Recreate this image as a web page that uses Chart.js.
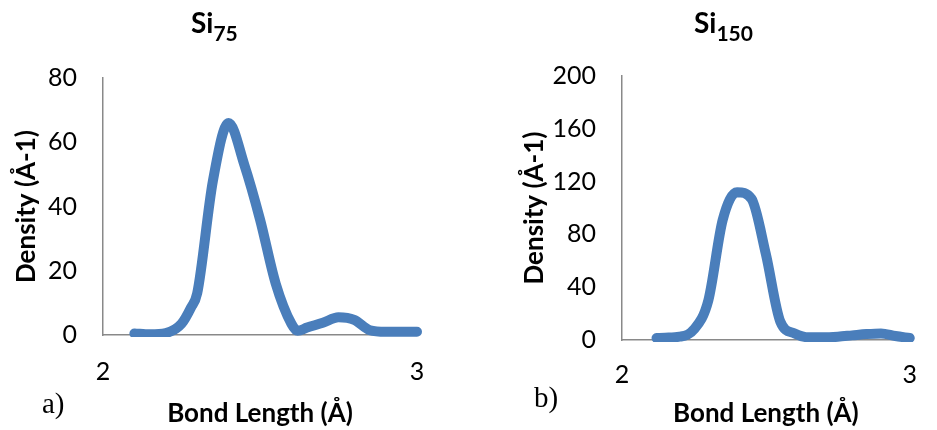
<!DOCTYPE html>
<html lang="en">
<head>
  <meta charset="UTF-8" />
  <title>Si bond length density</title>
  <script src="https://cdn.jsdelivr.net/npm/chart.js"></script>
  <style>
    body { margin: 0; background: #fff; }
    #wrap { position: relative; width: 937px; height: 430px; overflow: hidden; }
    canvas { position: absolute; top: 0; }
    .title { position: absolute; font-family: Lato, sans-serif; font-weight: bold; font-size: 28px; line-height: 1; white-space: nowrap; }
    .title sub { font-size: 21px; vertical-align: -8px; line-height: 0; }
    .panel { position: absolute; font-family: "Liberation Serif", serif; font-size: 29px; line-height: 1; }
  </style>
</head>
<body>
  <div id="wrap">
    <canvas id="chartA" width="470" height="430" style="left:0"></canvas>
    <canvas id="chartB" width="467" height="430" style="left:470px"></canvas>
    <div class="title" style="left:191px; top:8px">Si<sub>75</sub></div>
    <div class="title" style="left:694px; top:8px">Si<sub>150</sub></div>
    <div class="panel" style="left:42px; top:389px">a)</div>
    <div class="panel" style="left:534px; top:383px">b)</div>
  </div>

  <script>
    // Valores
    const xTicks = [2, 3];

    const bondA = [2.10, 2.15, 2.20, 2.25, 2.28, 2.30, 2.35, 2.40, 2.45, 2.50, 2.55, 2.60, 2.62, 2.65, 2.70, 2.75, 2.80, 2.85, 2.90, 2.95, 3.00];
    const densityA = [0.5, 0.2, 0.6, 3.5, 8.5, 13, 48, 66, 53, 36, 16, 3.5, 1.3, 2.3, 3.8, 5.5, 4.7, 1.5, 1, 1, 1];
    const yTicksA = [0, 20, 40, 60, 80];

    const bondB = [2.12, 2.15, 2.20, 2.25, 2.30, 2.35, 2.40, 2.45, 2.50, 2.55, 2.60, 2.65, 2.70, 2.75, 2.80, 2.85, 2.90, 2.95, 3.00];
    const densityB = [1.5, 1.8, 2.5, 8, 30, 91, 112, 107, 65, 14, 5, 2, 2, 2.5, 3.5, 4.5, 5, 3, 1.5];
    const yTicksB = [0, 40, 80, 120, 160, 200];

    const lineColor = '#4A7EBB';
    const axisColor = '#898989';

    function crearGrafico(id, bond, density, yTicks, pad, yWidth, xHeight, xTickPad) {
      const ctx = document.getElementById(id).getContext('2d');
      return new Chart(ctx, {
        type: 'line',
        data: {
          datasets: [{
            data: bond.map((b, i) => ({ x: b, y: density[i] })),
            borderColor: lineColor,
            borderWidth: 10,
            pointRadius: 0,
            cubicInterpolationMode: 'monotone',
            borderCapStyle: 'round',
            borderJoinStyle: 'round',
            clip: { left: 20, top: 20, right: 20, bottom: 2 }
          }]
        },
        options: {
          responsive: false,
          animation: false,
          devicePixelRatio: 1,
          layout: { padding: pad },
          plugins: { legend: { display: false }, tooltip: { enabled: false } },
          scales: {
            x: {
              type: 'linear',
              min: 2,
              max: 3,
              afterBuildTicks: s => { s.ticks = xTicks.map(v => ({ value: v })); },
              afterFit: s => { s.height = xHeight; },
              grid: { display: false, drawTicks: false },
              border: { color: axisColor, width: 1.5 },
              ticks: { padding: xTickPad, color: '#000', font: { family: 'Lato', size: 25 } },
              title: {
                display: true,
                text: 'Bond Length (Å)',
                color: '#000',
                font: { family: 'Lato', size: 26, weight: 'bold' },
                padding: { top: 0, bottom: 1 }
              }
            },
            y: {
              min: yTicks[0],
              max: yTicks[yTicks.length - 1],
              afterBuildTicks: s => { s.ticks = yTicks.map(v => ({ value: v })); },
              afterFit: s => { s.width = yWidth; },
              grid: { display: false, drawTicks: false },
              border: { color: axisColor, width: 1.5 },
              ticks: { padding: 26, color: '#000', font: { family: 'Lato', size: 25 } },
              title: {
                display: true,
                text: 'Density (Å-1)',
                color: '#000',
                font: { family: 'Lato', size: 26, weight: 'bold' },
                padding: { top: 3, bottom: 0 }
              }
            }
          }
        }
      });
    }

    crearGrafico('chartA', bondA, densityA, yTicksA, { left: 8, top: 78, right: 53, bottom: 0 }, 95, 95, 22);
    crearGrafico('chartB', bondB, densityB, yTicksB, { left: 46, top: 76, right: 10, bottom: 0 }, 106, 90, 20);
  </script>
</body>
</html>
